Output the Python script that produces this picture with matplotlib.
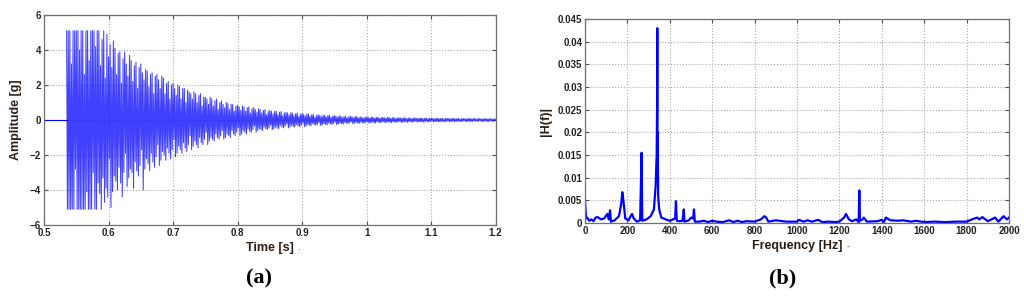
import numpy as np
import matplotlib.pyplot as plt
from matplotlib.ticker import FormatStrFormatter

# (a) time signal: flat lead-in, then the recorded swings every 1.25 ms
lead_time = [0.5, 0.535]
lead_amp = [0.0, 0.0]
sig_start = 0.535
sig_step = 0.00125
sig_amp = [
    5.1, -5.1, 5.1, -5.1, 5.1, -5.1, 3.2, -5.1, 5.1, -5.1, 5.1, -2.8, 5.1, -5.1, 5.1, -5.1, 4.0, -5.1, 5.1, -5.1,
    5.1, -5.1, 2.6, -5.1, 5.1, -4.1, 5.1, -5.1, 3.4, -5.1, 5.1, -5.1, 5.1, -3.0, 5.1, -5.1, 4.2, -5.1, 5.1, -3.6,
    5.1, -4.2, 3.1, -5.1, 4.6, -3.3, 5.1, -4.7, 2.4, -3.9, 4.9, -4.4, 3.6, -2.2, 4.3, -5.0, 3.0, -4.1, 4.5, -3.2,
    4.1, -3.5, 2.6, -4.0, 3.8, -2.7, 3.9, -3.6, 2.1, -4.4, 3.5, -3.0, 3.9, -1.9, 3.2, -3.8, 2.5, -3.3, 3.7, -2.8,
    3.4, -3.0, 2.2, -3.9, 3.1, -2.4, 3.3, -2.9, 1.8, -3.2, 3.0, -2.6, 3.2, -1.7, 2.7, -4.0, 2.3, -2.8, 2.9, -2.2,
    2.8, -2.5, 1.9, -2.9, 2.6, -1.9, 2.7, -2.4, 1.5, -2.7, 2.5, -2.1, 2.6, -1.4, 2.3, -2.6, 1.8, -2.3, 2.5, -1.8,
    2.4, -2.0, 1.5, -2.3, 2.1, -1.6, 2.2, -1.9, 1.2, -2.2, 2.0, -1.7, 2.1, -1.1, 1.8, -2.1, 1.4, -1.9, 2.0, -1.5,
    1.9, -1.7, 1.2, -1.9, 1.8, -1.3, 1.8, -1.6, 1.0, -1.8, 1.7, -1.4, 1.6, -0.9, 1.5, -1.7, 1.2, -1.5, 1.6, -1.2,
    1.5, -1.4, 1.0, -1.6, 1.4, -1.0, 1.5, -1.3, 0.8, -1.4, 1.3, -1.1, 1.3, -0.7, 1.2, -1.4, 0.9, -1.2, 1.3, -1.0,
    1.2, -1.1, 0.8, -1.2, 1.1, -0.8, 1.2, -1.0, 0.6, -1.1, 1.0, -0.9, 1.1, -0.6, 0.9, -1.1, 0.7, -1.0, 1.0, -0.8,
    0.95, -0.9, 0.6, -1.0, 0.9, -0.6, 0.9, -0.8, 0.5, -0.9, 0.8, -0.7, 0.85, -0.45, 0.75, -0.9, 0.55, -0.8, 0.8, -0.6,
    0.75, -0.7, 0.5, -0.8, 0.7, -0.5, 0.75, -0.65, 0.4, -0.7, 0.65, -0.55, 0.7, -0.35, 0.6, -0.7, 0.45, -0.6, 0.65, -0.5,
    0.6, -0.55, 0.4, -0.6, 0.55, -0.4, 0.6, -0.5, 0.3, -0.55, 0.5, -0.45, 0.55, -0.3, 0.5, -0.55, 0.35, -0.5, 0.5, -0.4,
    0.5, -0.45, 0.3, -0.5, 0.45, -0.3, 0.48, -0.4, 0.25, -0.45, 0.4, -0.35, 0.45, -0.22, 0.4, -0.45, 0.28, -0.4, 0.42, -0.3,
    0.4, -0.38, 0.25, -0.4, 0.36, -0.25, 0.4, -0.33, 0.2, -0.38, 0.34, -0.3, 0.37, -0.18, 0.33, -0.38, 0.23, -0.33, 0.35, -0.26,
    0.33, -0.3, 0.2, -0.33, 0.3, -0.2, 0.32, -0.27, 0.16, -0.3, 0.27, -0.24, 0.3, -0.15, 0.26, -0.31, 0.19, -0.27, 0.28, -0.21,
    0.27, -0.25, 0.17, -0.28, 0.25, -0.17, 0.27, -0.22, 0.14, -0.25, 0.23, -0.2, 0.25, -0.12, 0.22, -0.26, 0.16, -0.22, 0.24, -0.18,
    0.22, -0.21, 0.14, -0.23, 0.2, -0.14, 0.22, -0.18, 0.12, -0.21, 0.19, -0.16, 0.21, -0.1, 0.18, -0.22, 0.13, -0.18, 0.2, -0.15,
    0.19, -0.17, 0.12, -0.19, 0.17, -0.12, 0.18, -0.15, 0.1, -0.17, 0.16, -0.14, 0.17, -0.09, 0.15, -0.18, 0.11, -0.15, 0.17, -0.12,
    0.16, -0.15, 0.1, -0.17, 0.15, -0.1, 0.16, -0.13, 0.09, -0.15, 0.14, -0.12, 0.15, -0.08, 0.13, -0.16, 0.1, -0.13, 0.15, -0.11,
    0.14, -0.13, 0.09, -0.15, 0.13, -0.09, 0.14, -0.12, 0.08, -0.13, 0.12, -0.11, 0.13, -0.07, 0.12, -0.14, 0.09, -0.12, 0.13, -0.1,
    0.12, -0.11, 0.08, -0.13, 0.11, -0.08, 0.12, -0.1, 0.07, -0.12, 0.11, -0.09, 0.12, -0.06, 0.1, -0.12, 0.08, -0.1, 0.11, -0.09,
    0.11, -0.1, 0.07, -0.12, 0.1, -0.07, 0.11, -0.09, 0.06, -0.11, 0.1, -0.08, 0.11, -0.05, 0.09, -0.11, 0.07, -0.09, 0.1, -0.08,
    0.1, -0.09, 0.07, -0.11, 0.09, -0.06, 0.1, -0.09, 0.05, -0.1, 0.09, -0.08, 0.1, -0.05, 0.09, -0.1, 0.06, -0.09, 0.1, -0.07,
    0.09, -0.09, 0.06, -0.1, 0.09, -0.06, 0.09, -0.08, 0.05, -0.09, 0.08, -0.07, 0.09, -0.04, 0.08, -0.09, 0.06, -0.08, 0.09, -0.07,
    0.09, -0.08, 0.06, -0.09, 0.08, -0.05, 0.09, -0.07, 0.05, -0.08, 0.08, -0.07, 0.08, -0.04, 0.07, -0.09, 0.05, -0.08, 0.08, -0.06,
    0.08, -0.08, 0.05, -0.09, 0.08, -0.05, 0.08, -0.07, 0.04, -0.08, 0.07, -0.06, 0.05,
]

# (b) spectrum |H(f)|
freq = [0, 5, 10, 20, 30, 40, 50, 60, 75, 90, 105, 112, 118, 122, 140, 160,
        170, 176, 181, 190, 205, 215, 222, 230, 245, 260, 267, 270, 290, 310,
        325, 333, 338, 340, 341, 342, 343, 345, 350, 360, 380, 400, 415, 425,
        429, 433, 445, 460, 466, 469, 490, 500, 510, 514, 518, 540, 560, 580,
        600, 620, 650, 680, 700, 720, 740, 760, 800, 830, 846, 855, 865, 900,
        950, 1000, 1010, 1030, 1050, 1070, 1100, 1120, 1150, 1180, 1200, 1222,
        1231, 1245, 1260, 1280, 1291, 1294, 1297, 1310, 1315, 1330, 1380, 1400,
        1410, 1420, 1440, 1480, 1500, 1540, 1560, 1600, 1650, 1700, 1750, 1800,
        1820, 1850, 1860, 1875, 1900, 1935, 1950, 1975, 1990, 2000]
mag = [0.0048, 0.001, 0.0012, 0.0005, 0.0008, 0.0004, 0.0012, 0.0013, 0.0008,
       0.001, 0.002, 0.0008, 0.0028, 0.0003, 0.0006, 0.0015, 0.004, 0.0068,
       0.005, 0.001, 0.0006, 0.0015, 0.002, 0.001, 0.0003, 0.0006, 0.0155,
       0.0005, 0.0008, 0.0015, 0.003, 0.008, 0.015, 0.025, 0.043, 0.012, 0.02,
       0.006, 0.003, 0.0012, 0.0008, 0.0005, 0.0008, 0.001, 0.0048, 0.0005,
       0.0004, 0.0005, 0.003, 0.0003, 0.0006, 0.0012, 0.001, 0.003, 0.0003,
       0.0003, 0.0005, 0.0002, 0.0005, 0.0003, 0.0002, 0.0006, 0.0002, 0.0005,
       0.0002, 0.0004, 0.0003, 0.0008, 0.0015, 0.0012, 0.0003, 0.0006, 0.0003,
       0.0003, 0.0007, 0.0003, 0.0006, 0.0003, 0.0007, 0.0002, 0.0003, 0.0002,
       0.0003, 0.0012, 0.002, 0.0008, 0.0004, 0.0008, 0.0002, 0.0072, 0.0005,
       0.0008, 0.0012, 0.0003, 0.0004, 0.0007, 0.0002, 0.0012, 0.0006, 0.0005,
       0.0006, 0.0003, 0.0005, 0.0002, 0.0003, 0.0002, 0.0003, 0.0003, 0.0007,
       0.0012, 0.0008, 0.0013, 0.0004, 0.0012, 0.0003, 0.0015, 0.0008, 0.0012]

sig_time = sig_start + sig_step * np.arange(len(sig_amp))

tick_font = dict(family='Liberation Sans', size=7, weight='bold', color='#222222')
label_font = dict(family='Liberation Sans', size=9, weight='bold', color='#2b1d12')


def matlab_axes(ax):
    for s in ax.spines.values():
        s.set_color('#707070')
        s.set_linewidth(0.9)
    ax.tick_params(direction='in', top=True, right=True, length=3,
                   color='#505050', pad=2)
    ax.grid(True, linestyle=':', color='#a8a8a8', linewidth=0.8)
    for lab in ax.get_xticklabels() + ax.get_yticklabels():
        lab.set_fontfamily(tick_font['family'])
        lab.set_fontsize(tick_font['size'])
        lab.set_fontweight(tick_font['weight'])
        lab.set_color(tick_font['color'])


fig = plt.figure(figsize=(10.24, 3.03), dpi=100)

ax1 = fig.add_axes([0.043, 0.2574, 0.441, 0.693])
ax1.plot(lead_time, lead_amp, color='#0000ff', linewidth=0.8)
ax1.plot(sig_time, sig_amp, color='#1010ff', linewidth=0.75, alpha=0.8)
ax1.set_xlim(0.5, 1.2)
ax1.set_ylim(-6, 6)
ax1.set_xticks(np.arange(0.5, 1.21, 0.1))
ax1.set_yticks(np.arange(-6, 7, 2))
ax1.xaxis.set_major_formatter(FormatStrFormatter('%g'))
ax1.set_xlabel('Time [s]', labelpad=3, **label_font)
ax1.set_ylabel('Amplitude [g]', labelpad=6, **label_font)
matlab_axes(ax1)

ax2 = fig.add_axes([0.5713, 0.264, 0.414, 0.673])
ax2.plot(freq, mag, color='#0000ff', linewidth=1.6)
ax2.set_xlim(0, 2000)
ax2.set_ylim(0, 0.045)
ax2.set_xticks(np.arange(0, 2001, 200))
ax2.set_yticks(np.arange(0, 0.0451, 0.005))
ax2.yaxis.set_major_formatter(FormatStrFormatter('%g'))
ax2.set_xlabel('Frequency [Hz]', labelpad=3, **label_font)
ax2.set_ylabel('|H(f)|', labelpad=4, **label_font)
matlab_axes(ax2)

# small marks trailing the axis labels in the original
fig.text(0.292, 0.176, '.', fontsize=7, color='#666666', ha='center')
fig.text(0.828, 0.178, '-', fontsize=6, color='#666666', ha='center')

fig.text(0.253, 0.065, '(a)', family='Liberation Serif', size=16,
         weight='bold', ha='center')
fig.text(0.764, 0.065, '(b)', family='Liberation Serif', size=16,
         weight='bold', ha='center')

fig.savefig('out.png', dpi=100)
